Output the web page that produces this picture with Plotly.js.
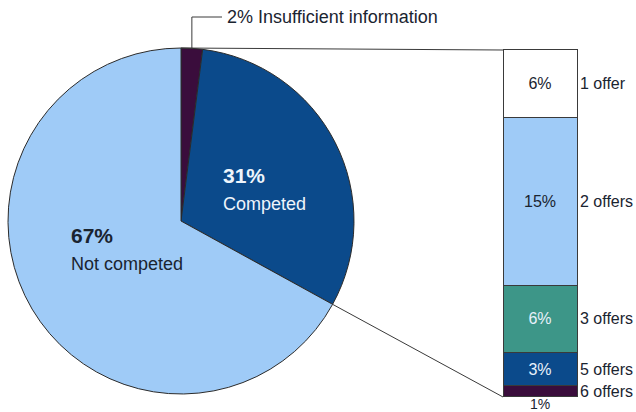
<!DOCTYPE html>
<html><head><meta charset="utf-8">
<script src="https://cdn.plot.ly/plotly-3.0.1.min.js"></script>
<style>body{margin:0;padding:0;background:#fff}#c{width:636px;height:412px}</style>
</head><body><div id="c"></div>
<script>
// Pie data
const pieLabels = ["Insufficient information", "Competed", "Not competed"];
const pieValues = [2, 31, 67];
const pieColors = ["#3a0d3c", "#0b4a8b", "#9fcbf7"];

// Breakdown of competed (bottom to top)
const barCats = ["6 offers", "5 offers", "3 offers", "2 offers", "1 offer"];
const barValues = [1, 3, 6, 15, 6];
const barColors = ["#3a0d3c", "#0b4a8b", "#3d9688", "#9fcbf7", "#ffffff"];
const barTextColors = ["#ffffff", "#e8f1fb", "#e8f1fb", "#1a2430", "#1a2430"];

const W = 636, H = 412;
const pieDom = {x: [8 / W, 354 / W], y: [18 / H, 364 / H]};
// bar body in pixels: x 503..577, y(from bottom) 15..362
const barPx = {x0: 503, x1: 577, y0: 15, y1: 362};
const FONT = "Liberation Sans, Arial, sans-serif";

const total = barValues.reduce((a, b) => a + b, 0);
const pieTotal = pieValues.reduce((a, b) => a + b, 0);

// axis padding so the outline is not clipped
const padX = 0.03, padY = 0.12;
const pxPerX = (barPx.x1 - barPx.x0) / 1;
const pxPerY = (barPx.y1 - barPx.y0) / total;
const barDomX = [(barPx.x0 - padX * pxPerX) / W, (barPx.x1 + padX * pxPerX) / W];
const barDomY = [(barPx.y0 - padY * pxPerY) / H, (barPx.y1 + padY * pxPerY) / H];

const traces = [];
traces.push({
  type: "pie", labels: pieLabels, values: pieValues, sort: false,
  direction: "clockwise", rotation: 0, textinfo: "none", hoverinfo: "label+percent",
  marker: {colors: pieColors, line: {color: "#2b2b2b", width: 1}},
  domain: pieDom, showlegend: false
});
barCats.forEach((c, i) => {
  traces.push({
    type: "bar", x: [0], y: [barValues[i]], name: c, xaxis: "x", yaxis: "y",
    marker: {color: barColors[i], line: {color: "#3a3a3a", width: 1}},
    text: [i === 0 ? "" : barValues[i] + "%"], textposition: "inside",
    insidetextanchor: "middle", constraintext: "none", cliponaxis: false,
    textfont: {size: 16, color: barTextColors[i], family: FONT},
    width: 1, showlegend: false, hoverinfo: "name+y"
  });
});

// Pie geometry in paper coordinates
const pw = (pieDom.x[1] - pieDom.x[0]) * W, ph = (pieDom.y[1] - pieDom.y[0]) * H;
const r = Math.min(pw, ph) / 2;
const cx = (pieDom.x[0] + pieDom.x[1]) / 2 * W;
const cy = (pieDom.y[0] + pieDom.y[1]) / 2 * H; // from bottom
function pt(frac) {
  const a = frac * 2 * Math.PI;
  return [(cx + r * Math.sin(a)) / W, (cy + r * Math.cos(a)) / H];
}
const endCompeted = (pieValues[0] + pieValues[1]) / pieTotal;
const midInsuf = pieValues[0] / pieTotal / 2;
const pTop = pt(0), pEnd = pt(endCompeted), pIns = pt(midInsuf);

const shapes = [
  {type: "line", xref: "paper", yref: "paper", x0: pTop[0], y0: pTop[1], x1: barPx.x0 / W, y1: barPx.y1 / H, line: {color: "#3a3a3a", width: 1}},
  {type: "line", xref: "paper", yref: "paper", x0: pEnd[0], y0: pEnd[1], x1: barPx.x0 / W, y1: barPx.y0 / H, line: {color: "#3a3a3a", width: 1}},
  {type: "line", xref: "paper", yref: "paper", x0: pIns[0], y0: pIns[1], x1: pIns[0], y1: 395 / H, line: {color: "#3a3a3a", width: 1}},
  {type: "line", xref: "paper", yref: "paper", x0: pIns[0], y0: 395 / H, x1: 222 / W, y1: 395 / H, line: {color: "#3a3a3a", width: 1}}
];

const annotations = [
  {xref: "paper", yref: "paper", x: 225 / W, y: 395 / H, xanchor: "left", yanchor: "middle", showarrow: false,
   text: pieValues[0] + "% Insufficient information", font: {size: 18, color: "#1a2430", family: FONT}},
  {xref: "paper", yref: "paper", x: 221 / W, y: 223 / H, xanchor: "left", yanchor: "middle", showarrow: false, align: "left",
   text: "<b>" + pieValues[1] + "%</b><br><span style='font-size:18px'>Competed</span>", font: {size: 21, color: "#eef5fc", family: FONT}},
  {xref: "paper", yref: "paper", x: 69 / W, y: 163 / H, xanchor: "left", yanchor: "middle", showarrow: false, align: "left",
   text: "<b>" + pieValues[2] + "%</b><br><span style='font-size:18px'>Not competed</span>", font: {size: 21, color: "#1a2430", family: FONT}},
  {xref: "x", yref: "y", x: 0, y: 0, yanchor: "top", yshift: 3, showarrow: false,
   text: barValues[0] + "%", font: {size: 14, color: "#1a2430", family: FONT}}
];
let cum = 0;
barCats.forEach((c, i) => {
  const mid = cum + barValues[i] / 2;
  cum += barValues[i];
  annotations.push({xref: "x", yref: "y", x: 0.5, y: mid, xanchor: "left", yanchor: "middle", xshift: 1,
    showarrow: false, text: c, font: {size: 16, color: "#1a2430", family: FONT}});
});

const layout = {
  width: W, height: H, margin: {l: 0, r: 0, t: 0, b: 0},
  paper_bgcolor: "#ffffff", plot_bgcolor: "rgba(0,0,0,0)",
  barmode: "stack", bargap: 0,
  xaxis: {domain: barDomX, range: [-0.5 - padX, 0.5 + padX], visible: false, fixedrange: true},
  yaxis: {domain: barDomY, range: [-padY, total + padY], visible: false, fixedrange: true},
  shapes: shapes, annotations: annotations, showlegend: false,
  font: {family: FONT}
};
Plotly.newPlot("c", traces, layout, {displayModeBar: false, staticPlot: true});
</script></body></html>
